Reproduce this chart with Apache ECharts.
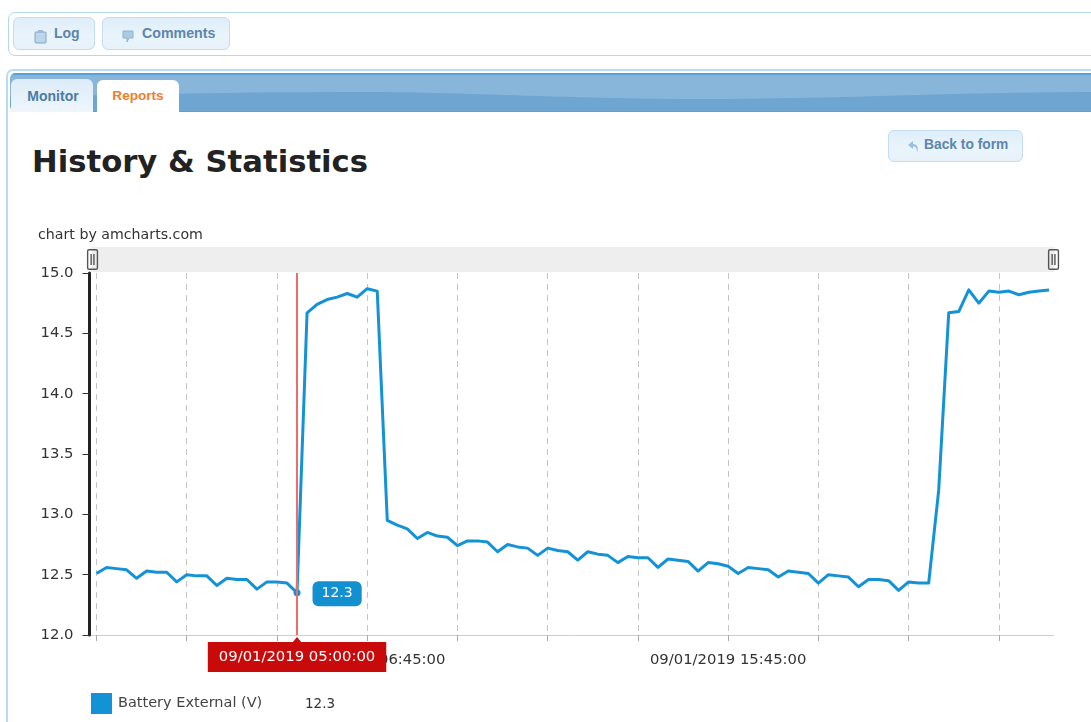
<!DOCTYPE html>
<html>
<head>
<meta charset="utf-8">
<title>History &amp; Statistics</title>
<script src="https://cdn.jsdelivr.net/npm/echarts@6/dist/echarts.min.js"></script>
<style>
html,body{margin:0;padding:0;background:#fff;width:1091px;height:722px;overflow:hidden}
.abs{position:absolute;box-sizing:border-box}
.btn{background:linear-gradient(180deg,#dfeefa 0%,#eaf4fb 60%,#e6f1fa 100%);border:1px solid #c3ddf0;border-radius:6px;color:#5c86ad;font:bold 14px "Liberation Sans",Arial,sans-serif;line-height:30px}
.btn svg{position:absolute}
.btn span{position:absolute;white-space:nowrap}
#chart{position:absolute;left:0;top:0;width:1091px;height:722px}
</style>
</head>
<body>
<div class="abs" style="left:8px;top:12px;width:1100px;height:44px;border:1px solid #b5d8ee;border-radius:7px"></div>
<div class="abs btn" style="left:13px;top:17px;width:82px;height:33px">
  <svg style="left:20px;top:11px" width="13" height="15" viewBox="0 0 13 15"><rect x="1" y="3" width="11" height="11" rx="1" fill="#bcd6ea" stroke="#7fa6c6"/><rect x="4" y="1" width="5" height="3" fill="#9dbdd6"/></svg>
  <span style="left:40px;top:0">Log</span>
</div>
<div class="abs btn" style="left:102px;top:17px;width:128px;height:33px">
  <svg style="left:18px;top:11px" width="14" height="14" viewBox="0 0 14 14"><path d="M2 2h10v7H8l-2 4V9H2z" fill="#a9cbe3" stroke="#8db4d1"/></svg>
  <span style="left:39px;top:0;font-size:14.2px">Comments</span>
</div>
<div class="abs" style="left:6px;top:69px;width:1100px;height:670px;border:2px solid #b9dcf0;border-radius:7px"></div>
<svg class="abs" style="left:10px;top:73px;border-radius:6px 0 0 6px" width="1081" height="39" viewBox="0 0 1081 39">
  <rect width="1081" height="39" fill="#6fa5d1"/>
  <path d="M0 0H1081V19C960 19 840 25 719 26C560 27 450 18 336 19C220 19 110 22 0 24Z" fill="#88b5da"/>
  <rect width="1081" height="2" fill="#5b9fd6"/>
  <rect y="38" width="1081" height="1" fill="#5b9fd6"/>
</svg>
<div class="abs" style="left:11px;top:79px;width:82px;height:33px;border-radius:6px 6px 0 0;background:linear-gradient(180deg,#dcecf8,#eef6fc);color:#4a7ba8;font:bold 14px/34px 'Liberation Sans',Arial,sans-serif;text-align:center;padding-left:2px">Monitor</div>
<div class="abs" style="left:97px;top:80px;width:82px;height:33px;border-radius:6px 6px 0 0;background:#fff;color:#ef7d2c;font:bold 13.6px/32px 'Liberation Sans',Arial,sans-serif;text-align:center">Reports</div>
<div class="abs" style="left:32px;top:142px;color:#222;font:bold 30.7px/40px 'DejaVu Sans',Verdana,sans-serif;white-space:nowrap">History &amp; Statistics</div>
<div class="abs btn" style="left:888px;top:130px;width:135px;height:32px;">
  <svg style="left:18px;top:9px" width="13" height="14" viewBox="0 0 13 14"><path d="M6 1L1 5l5 4V6.500c3 0 4 2 4 6 2-5 0-8.500-4-8.500z" fill="#9dbfdb"/></svg>
  <span style="left:35px;top:-1px;font-size:13.8px">Back to form</span>
</div>
<div id="chart"></div>
<script>
var times = ["00:00","00:15","00:30","00:45","01:00","01:15","01:30","01:45","02:00","02:15","02:30","02:45",
"03:00","03:15","03:30","03:45","04:00","04:15","04:30","04:45","05:00","05:15","05:30","05:45",
"06:00","06:15","06:30","06:45","07:00","07:15","07:30","07:45","08:00","08:15","08:30","08:45",
"09:00","09:15","09:30","09:45","10:00","10:15","10:30","10:45","11:00","11:15","11:30","11:45",
"12:00","12:15","12:30","12:45","13:00","13:15","13:30","13:45","14:00","14:15","14:30","14:45",
"15:00","15:15","15:30","15:45","16:00","16:15","16:30","16:45","17:00","17:15","17:30","17:45",
"18:00","18:15","18:30","18:45","19:00","19:15","19:30","19:45","20:00","20:15","20:30","20:45",
"21:00","21:15","21:30","21:45","22:00","22:15","22:30","22:45","23:00","23:15","23:30","23:45"];
var datePrefix = "09/01/2019 ";
var batteryExternal = [12.51,12.56,12.55,12.54,12.47,12.53,12.52,12.52,12.44,12.50,12.49,12.49,
12.41,12.47,12.46,12.46,12.38,12.44,12.44,12.43,12.35,14.67,14.74,14.78,
14.80,14.83,14.80,14.87,14.85,12.95,12.91,12.88,12.80,12.85,12.82,12.81,
12.74,12.78,12.78,12.77,12.69,12.75,12.73,12.72,12.66,12.72,12.70,12.69,
12.62,12.69,12.67,12.66,12.60,12.65,12.64,12.64,12.56,12.63,12.62,12.61,
12.53,12.60,12.59,12.57,12.51,12.56,12.55,12.54,12.48,12.53,12.52,12.51,
12.43,12.50,12.49,12.48,12.40,12.46,12.46,12.45,12.37,12.44,12.43,12.43,
13.20,14.67,14.68,14.86,14.75,14.85,14.84,14.85,14.82,14.84,14.85,14.86];
var seriesName = "Battery External (V)";
var cursorIndex = 20;
var cursorText = "12.3";
var creditText = "chart by amcharts.com";
var font = "'DejaVu Sans',Verdana,sans-serif";
var blue = "#1492d6";

var chart = echarts.init(document.getElementById('chart'), null, {renderer:'canvas'});
var cats = times.map(function(t){return datePrefix+t+":00";});
var pointData = batteryExternal.map(function(v,i){
  if(i!==cursorIndex) return v;
  return {value:v,symbol:'circle',symbolSize:7,itemStyle:{color:blue},
    label:{show:true,position:'right',distance:12,offset:[0,1],formatter:cursorText,color:'#fff',fontFamily:font,fontSize:14,
      backgroundColor:'#1290d0',borderRadius:6,padding:[6,9,5,9]}};
});
var handle='path://M3 0H13A3 3 0 0 1 16 3V27A3 3 0 0 1 13 30H3A3 3 0 0 1 0 27V3A3 3 0 0 1 3 0ZM3 2A1 1 0 0 0 2 3V27A1 1 0 0 0 3 28H13A1 1 0 0 0 14 27V3A1 1 0 0 0 13 2ZM5 7H7V23H5ZM9 7H11V23H9Z';
chart.setOption({
  animation:false,
  backgroundColor:'transparent',
  title:{text:creditText,left:38,top:228,padding:0,textStyle:{fontFamily:font,fontSize:14.2,fontWeight:'normal',color:'#333'}},
  grid:{left:91.5,right:37,top:273,height:362,containLabel:false},
  xAxis:{
    type:'category',data:cats,boundaryGap:true,
    axisPointer:{show:true,value:cats[cursorIndex],status:'show',type:'line',snap:true,triggerTooltip:false,
      lineStyle:{color:'#ef6c6c',width:2,type:'solid'},
      label:{show:true,backgroundColor:'#c80a0a',color:'#fff',fontFamily:font,fontSize:14.8,margin:7,padding:[8,11,7,11],borderRadius:0,shadowBlur:0,
        formatter:function(p){return p.value;}},
      handle:{show:false}},
    axisLine:{lineStyle:{color:'#cfcfcf',width:1}},
    axisTick:{show:true,alignWithLabel:true,length:6,lineStyle:{color:'#aaa'},interval:function(i){return i%9===0;}},
    splitLine:{show:true,alignWithLabel:true,lineStyle:{color:'#c4c4c4',type:[6,5],width:1},interval:function(i){return i%9===0;}},
    axisLabel:{color:'#333',fontFamily:font,fontSize:14.8,margin:18,hideOverlap:false,interval:function(i){return i%36===27;}}
  },
  yAxis:{
    type:'value',min:12,max:15,interval:0.5,offset:2,
    axisLine:{show:true,onZero:false,lineStyle:{color:'#222',width:3}},
    axisTick:{show:true,length:7,lineStyle:{color:'#333',width:1}},
    splitLine:{show:false},
    axisLabel:{color:'#333',fontFamily:font,fontSize:14.8,margin:16,formatter:function(v){return v.toFixed(1);}}
  },
  legend:{left:91,top:693,padding:0,icon:'rect',itemWidth:21,itemHeight:21,itemGap:10,selectedMode:false,
    textStyle:{color:'#444',fontFamily:font,fontSize:14.5,padding:[2,0,0,1]},data:[seriesName]},
  dataZoom:[{type:'slider',xAxisIndex:0,start:0,end:100,left:91,right:37,top:247,height:25,
    backgroundColor:'#eeeeee',borderColor:'transparent',fillerColor:'rgba(0,0,0,0)',showDataShadow:false,showDetail:false,
    moveHandleSize:0,brushSelect:false,handleIcon:handle,handleSize:'84%',
    handleStyle:{color:'#555',borderColor:'#555',borderWidth:0}}],
  graphic:[{type:'text',left:305,top:697,style:{text:cursorText,fill:'#333',font:'13.5px '+font}}],
  series:[{name:seriesName,type:'line',data:pointData,showSymbol:true,showAllSymbol:true,symbol:'none',symbolSize:7,smooth:false,
    lineStyle:{color:blue,width:3,join:'round'},itemStyle:{color:blue},emphasis:{disabled:true},z:3,
    markPoint:{silent:true,animation:false,label:{show:false},
      data:[{coord:[cursorIndex,12],symbol:'triangle',symbolSize:[10,6],symbolOffset:[0,5],itemStyle:{color:'#c80a0a'}}]}}]
});
</script>
</body>
</html>
